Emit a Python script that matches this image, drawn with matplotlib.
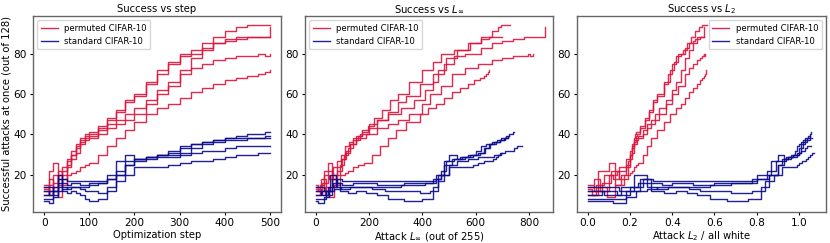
import matplotlib.pyplot as plt

steps = [0, 10, 20, 30, 40, 50, 60, 70, 80, 90, 100, 120, 140, 160, 180, 200,
         225, 250, 275, 300, 325, 350, 375, 400, 425, 450, 475, 490, 500]

# successful attacks, permuted CIFAR-10 runs
perm_succ = [
    [14, 18, 12, 20, 22, 28, 32, 35, 38, 40, 41, 44, 48, 52, 57, 60, 66, 72, 76, 80, 82, 85, 88, 91, 93, 94, 94, 94, 94],
    [12, 22, 26, 15, 20, 25, 30, 33, 37, 39, 40, 43, 47, 51, 56, 59, 65, 70, 75, 79, 80, 83, 85, 86, 87, 88, 88, 88, 93],
    [10, 15, 20, 18, 24, 27, 30, 34, 36, 38, 39, 42, 45, 47, 50, 53, 57, 62, 66, 72, 78, 82, 85, 87, 88, 88, 88, 88, 88],
    [15, 12, 16, 22, 18, 24, 28, 31, 35, 37, 38, 40, 43, 45, 47, 50, 55, 60, 64, 70, 73, 75, 77, 78, 79, 79, 80, 79, 80],
    [13, 10, 14, 9, 15, 20, 21, 22, 24, 25, 26, 30, 34, 38, 42, 46, 50, 53, 55, 58, 61, 63, 65, 67, 68, 69, 70, 71, 72],
]

# successful attacks, standard CIFAR-10 runs
std_succ = [
    [8, 8, 12, 18, 16, 15, 16, 16, 15, 15, 16, 16, 20, 27, 30, 28, 29, 30, 31, 33, 35, 36, 37, 38, 39, 40, 40, 41, 41],
    [14, 14, 12, 20, 14, 13, 14, 14, 14, 14, 15, 16, 18, 22, 27, 28, 29, 30, 32, 34, 35, 36, 37, 38, 38, 38, 38, 39, 39],
    [12, 10, 14, 16, 12, 11, 12, 11, 10, 8, 7, 8, 14, 20, 25, 28, 29, 30, 30, 31, 33, 35, 36, 37, 37, 38, 38, 38, 38],
    [10, 12, 10, 14, 18, 17, 17, 17, 17, 17, 17, 17, 18, 20, 25, 27, 28, 29, 29, 30, 31, 32, 32, 33, 34, 34, 34, 34, 34],
    [7, 6, 9, 12, 13, 14, 14, 14, 13, 12, 12, 11, 12, 17, 20, 24, 24, 24, 25, 26, 27, 27, 28, 29, 30, 30, 31, 31, 31],
]

# L_inf of the attack (out of 255) at each step
perm_linf = [
    [0, 20, 40, 60, 80, 100, 115, 130, 150, 165, 175, 195, 220, 250, 280, 310, 350, 400, 440, 470, 520, 570, 620, 660, 685, 695, 710, 720, 730],
    [0, 30, 45, 60, 75, 90, 105, 120, 140, 160, 175, 200, 230, 270, 310, 340, 390, 440, 480, 520, 560, 620, 660, 700, 740, 780, 820, 840, 860],
    [0, 15, 30, 50, 65, 80, 95, 110, 125, 140, 150, 175, 200, 230, 270, 320, 370, 410, 440, 460, 490, 530, 580, 620, 650, 670, 685, 695, 700],
    [0, 10, 25, 45, 60, 80, 95, 110, 130, 150, 165, 190, 230, 270, 310, 350, 400, 430, 470, 510, 560, 610, 660, 700, 740, 770, 795, 805, 815],
    [0, 20, 35, 50, 70, 90, 110, 120, 140, 160, 180, 210, 240, 270, 300, 340, 390, 420, 450, 480, 510, 540, 570, 595, 615, 630, 640, 645, 650],
]
std_linf = [
    [0, 20, 40, 60, 80, 100, 140, 180, 230, 280, 330, 420, 450, 480, 500, 530, 560, 590, 610, 630, 650, 670, 690, 705, 715, 725, 735, 740, 745],
    [0, 15, 30, 55, 75, 95, 130, 170, 220, 270, 320, 410, 440, 470, 490, 520, 550, 580, 600, 620, 640, 660, 680, 695, 705, 712, 718, 722, 725],
    [0, 25, 45, 65, 90, 120, 150, 190, 230, 270, 330, 400, 440, 460, 480, 510, 540, 570, 595, 615, 635, 655, 675, 690, 700, 710, 715, 718, 720],
    [0, 20, 40, 60, 80, 100, 140, 190, 240, 290, 340, 420, 450, 470, 500, 530, 570, 610, 640, 670, 690, 710, 730, 745, 755, 765, 770, 773, 775],
    [0, 10, 30, 50, 70, 90, 120, 160, 210, 260, 310, 390, 430, 460, 480, 500, 530, 560, 590, 610, 630, 650, 665, 675, 685, 690, 695, 698, 700],
]

# L_2 of the attack relative to an all-white image
perm_l2 = [
    [0, 0.03, 0.06, 0.1, 0.14, 0.18, 0.2, 0.21, 0.22, 0.225, 0.23, 0.25, 0.27, 0.29, 0.31, 0.33, 0.36, 0.39, 0.41, 0.43, 0.45, 0.47, 0.49, 0.51, 0.525, 0.54, 0.55, 0.56, 0.565],
    [0, 0.05, 0.1, 0.13, 0.16, 0.18, 0.2, 0.21, 0.22, 0.23, 0.235, 0.25, 0.27, 0.29, 0.31, 0.33, 0.36, 0.38, 0.4, 0.42, 0.44, 0.46, 0.48, 0.5, 0.51, 0.52, 0.53, 0.54, 0.55],
    [0, 0.04, 0.08, 0.12, 0.15, 0.19, 0.2, 0.21, 0.22, 0.23, 0.24, 0.26, 0.28, 0.3, 0.32, 0.34, 0.37, 0.4, 0.42, 0.44, 0.46, 0.48, 0.5, 0.52, 0.53, 0.54, 0.545, 0.55, 0.55],
    [0, 0.03, 0.07, 0.11, 0.15, 0.19, 0.2, 0.21, 0.22, 0.235, 0.24, 0.26, 0.28, 0.3, 0.32, 0.34, 0.37, 0.4, 0.43, 0.46, 0.48, 0.5, 0.52, 0.53, 0.54, 0.545, 0.55, 0.553, 0.555],
    [0, 0.02, 0.05, 0.09, 0.13, 0.17, 0.2, 0.21, 0.22, 0.23, 0.24, 0.26, 0.28, 0.3, 0.33, 0.36, 0.39, 0.42, 0.44, 0.46, 0.48, 0.5, 0.52, 0.53, 0.54, 0.55, 0.555, 0.558, 0.56],
]
std_l2 = [
    [0, 0.1, 0.18, 0.25, 0.3, 0.35, 0.4, 0.45, 0.5, 0.55, 0.6, 0.7, 0.8, 0.87, 0.9, 0.93, 0.95, 0.97, 0.99, 1.0, 1.01, 1.02, 1.03, 1.04, 1.045, 1.05, 1.052, 1.055, 1.055],
    [0, 0.08, 0.15, 0.22, 0.28, 0.33, 0.38, 0.43, 0.48, 0.53, 0.58, 0.68, 0.78, 0.85, 0.89, 0.92, 0.94, 0.96, 0.98, 0.99, 1.0, 1.01, 1.02, 1.03, 1.035, 1.04, 1.045, 1.05, 1.05],
    [0, 0.08, 0.16, 0.24, 0.3, 0.36, 0.42, 0.47, 0.52, 0.58, 0.66, 0.76, 0.82, 0.86, 0.9, 0.93, 0.95, 0.97, 0.99, 1.0, 1.01, 1.02, 1.03, 1.04, 1.045, 1.05, 1.055, 1.06, 1.06],
    [0, 0.07, 0.14, 0.2, 0.26, 0.31, 0.36, 0.42, 0.48, 0.54, 0.6, 0.7, 0.8, 0.86, 0.9, 0.92, 0.94, 0.96, 0.98, 0.99, 1.0, 1.01, 1.02, 1.03, 1.04, 1.045, 1.05, 1.055, 1.055],
    [0, 0.12, 0.18, 0.23, 0.28, 0.33, 0.38, 0.43, 0.48, 0.53, 0.58, 0.68, 0.78, 0.84, 0.88, 0.92, 0.95, 0.97, 0.99, 1.0, 1.015, 1.025, 1.035, 1.045, 1.05, 1.055, 1.06, 1.065, 1.07],
]

PERM_COLOR = '#dc143c'
STD_COLOR = '#0a0a8c'

plt.rcParams['font.size'] = 7
plt.rcParams['xtick.major.size'] = 2.5
plt.rcParams['ytick.major.size'] = 2.5
plt.rcParams['xtick.major.pad'] = 2
plt.rcParams['ytick.major.pad'] = 2

fig = plt.figure(figsize=(8.3, 2.43), dpi=100)
ax1 = fig.add_axes([0.0398, 0.128, 0.2988, 0.806])
ax2 = fig.add_axes([0.3675, 0.128, 0.2988, 0.806])
ax3 = fig.add_axes([0.6952, 0.128, 0.3, 0.806])


def draw(ax, perm_x, std_x):
    for i, y in enumerate(perm_succ):
        ax.plot(perm_x[i], y, drawstyle='steps-post', color=PERM_COLOR, lw=1.0, alpha=0.9,
                label='permuted CIFAR-10' if i == 0 else None)
    for i, y in enumerate(std_succ):
        ax.plot(std_x[i], y, drawstyle='steps-post', color=STD_COLOR, lw=1.0, alpha=0.9,
                label='standard CIFAR-10' if i == 0 else None)
    ax.tick_params(labelsize=7.6)
    for sp in ax.spines.values():
        sp.set_color('#666666')
        sp.set_linewidth(1.0)


draw(ax1, [steps] * 5, [steps] * 5)
ax1.set_title('Success vs step', fontsize=7.2, pad=3)
ax1.set_xlabel('Optimization step', fontsize=7.2, labelpad=1)
ax1.set_ylabel('Successful attacks at once (out of 128)', fontsize=7.2, labelpad=1)
ax1.legend(loc='upper left', fontsize=6.1)

draw(ax2, perm_linf, std_linf)
ax2.set_title(r'Success vs $L_\infty$', fontsize=7.2, pad=3)
ax2.set_xlabel(r'Attack $L_\infty$ (out of 255)', fontsize=7.2, labelpad=1)
ax2.legend(loc='upper left', fontsize=6.1)

draw(ax3, perm_l2, std_l2)
ax3.set_title(r'Success vs $L_2$', fontsize=7.2, pad=3)
ax3.set_xlabel(r'Attack $L_2$ / all white', fontsize=7.2, labelpad=1)
ax3.legend(loc='upper right', fontsize=6.1)

for ax in (ax1, ax2, ax3):
    ax.set_ylim(1.6, 98.6)
    ax.set_yticks([20, 40, 60, 80])
ax1.set_xlim(-25, 525)
ax2.set_xlim(-40, 890)
ax3.set_xlim(-0.05, 1.128)

fig.savefig('out.png', dpi=100)
